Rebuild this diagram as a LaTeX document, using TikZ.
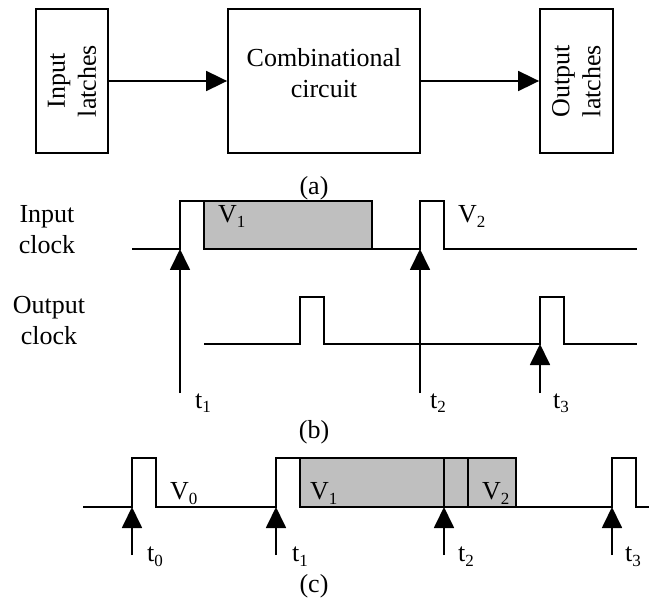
\documentclass[tikz,border=0pt]{standalone}
\usepackage{fontspec}
\setmainfont{Liberation Serif}
\usetikzlibrary{positioning, arrows.meta}
\newcommand{\subidx}[1]{\raisebox{-5pt}{\fontsize{17}{17}\selectfont #1}}

\begin{document}
\begin{tikzpicture}[
    x=1pt, y=-1pt,
    every node/.style={font=\fontsize{26}{31}\selectfont},
    box/.style={rectangle, draw, line width=1.8pt, minimum height=144pt, inner sep=0pt},
    arrow/.style={-{Triangle[length=21pt,width=20pt]}, line width=1.8pt},
    wave/.style={line width=1.8pt},
    valbox/.style={draw, line width=1.8pt, fill=black!25},
    tick/.style={-{Triangle[length=21pt,width=20pt]}, line width=1.8pt},
    lbl/.style={align=center, inner sep=0pt},
    sym/.style={anchor=base west, inner sep=0pt},
  ]
    \useasboundingbox (0,0) rectangle (649,599);

    % (a) pipeline stage
    \node[box, minimum width=72pt]  (inlatch)  at (72,81)    {};
    \node[box, minimum width=192pt] (comb)     at (324,81)   {};
    \node[box, minimum width=73pt]  (outlatch) at (576.5,81) {};
    \node[lbl, rotate=90] (intxt)   at (inlatch.center)  {Input\\latches};
    \node[lbl, rotate=90] (outtxt)  at (outlatch.center) {Output\\latches};
    \node[lbl] (combtxt) at ([yshift=8pt]comb.center) {Combinational\\circuit};
    \draw[arrow] (inlatch) -- (comb);
    \draw[arrow] (comb) -- (outlatch);
    \node[lbl] (capa) at (314,188) {(a)};

    % (b) input and output clocks
    \node[lbl] (inclk)  at (47,230) {Input\\clock};
    \node[lbl] (outclk) at (49,321) {Output\\clock};
    \draw[wave] (132,249) -- (180,249) -- (180,201) -- (204,201);
    \draw[valbox] (204,201) rectangle (372,249);
    \draw[wave] (372,249) -- (420,249) -- (420,201) -- (444,201) -- (444,249) -- (637,249);
    \draw[wave] (204,344) -- (300,344) -- (300,297) -- (324,297) -- (324,344)
      -- (540,344) -- (540,297) -- (564,297) -- (564,344) -- (637,344);
    \node[sym] (v1b) at (218,223) {V\subidx{1}};
    \node[sym] (v2b) at (458,223) {V\subidx{2}};
    \coordinate (b1) at (180,393);
    \coordinate (b2) at (420,393);
    \coordinate (b3) at (540,393);
    \draw[tick] (b1) -- (180,249);
    \draw[tick] (b2) -- (420,249);
    \draw[tick] (b3) -- (540,344);
    \node[sym] (t1b) at (195,408) {t\subidx{1}};
    \node[sym] (t2b) at (430,408) {t\subidx{2}};
    \node[sym] (t3b) at (553,408) {t\subidx{3}};
    \node[lbl] (capb) at (314,432) {(b)};

    % (c) single clock
    \draw[wave] (83,507) -- (132,507) -- (132,458) -- (156,458) -- (156,507)
      -- (276,507) -- (276,458) -- (300,458);
    \draw[valbox] (300,458) rectangle (516,507);
    \draw[wave] (444,458) -- (444,507) (468,458) -- (468,507);
    \draw[wave] (516,507) -- (612,507) -- (612,458) -- (636,458) -- (636,507) -- (649,507);
    \node[sym] (v0c) at (170,499) {V\subidx{0}};
    \node[sym] (v1c) at (310,499) {V\subidx{1}};
    \node[sym] (v2c) at (482,499) {V\subidx{2}};
    \coordinate (c0) at (132,555);
    \coordinate (c1) at (276,555);
    \coordinate (c2) at (444,555);
    \coordinate (c3) at (612,555);
    \draw[tick] (c0) -- (132,507);
    \draw[tick] (c1) -- (276,507);
    \draw[tick] (c2) -- (444,507);
    \draw[tick] (c3) -- (612,507);
    \node[sym] (t0c) at (147,561) {t\subidx{0}};
    \node[sym] (t1c) at (292,561) {t\subidx{1}};
    \node[sym] (t2c) at (458,561) {t\subidx{2}};
    \node[sym] (t3c) at (625,561) {t\subidx{3}};
    \node[lbl] (capc) at (314,586) {(c)};
  \end{tikzpicture}
\end{document}
